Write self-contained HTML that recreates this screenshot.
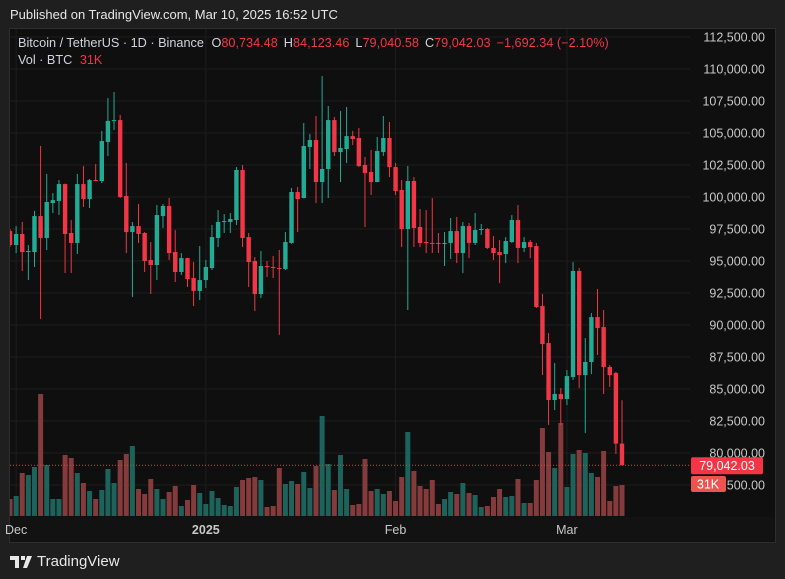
<!DOCTYPE html>
<html><head><meta charset="utf-8">
<style>
html,body{margin:0;padding:0;background:#1f1f1f;}
body{width:785px;height:579px;position:relative;overflow:hidden;font-family:"Liberation Sans",sans-serif;}
#hdr{position:absolute;left:10px;top:7px;font-size:13px;color:#e6e6e6;}
#frame{position:absolute;left:9px;top:28px;width:767px;height:515px;background:#0f0f0f;border:1px solid #2e2e2e;box-sizing:border-box;overflow:hidden;}
#foot{position:absolute;left:10px;top:553px;font-size:15px;color:#e8e8e8;display:flex;align-items:center;gap:5px;}
</style></head><body>
<div id="hdr">Published on TradingView.com, Mar 10, 2025 16:52 UTC</div>
<div id="frame"></div>
<svg id="chart" width="785" height="579" style="position:absolute;left:0;top:0;" font-family="Liberation Sans, sans-serif"></svg>
<div id="foot"><svg width="22" height="14" viewBox="0 0 22 14"><path d="M0 1h9v12H5V5H0z M11 1h4v4h-4z M17 1h5l-5 12h-4z" fill="#e8e8e8"/></svg><span>TradingView</span></div>
<script>
const opens=[97.34,96.25,97.11,95.78,95.70,98.51,96.80,99.53,99.69,101.01,97.19,96.41,101.01,99.84,101.33,101.25,104.30,105.96,106.01,100.08,97.26,97.73,97.19,95.08,94.69,98.51,99.30,95.70,94.14,95.23,93.67,92.66,93.51,94.45,96.80,98.08,98.05,98.20,102.11,96.87,95.00,92.42,94.61,94.53,94.45,94.37,96.41,100.39,99.92,103.91,104.45,101.17,102.19,106.01,103.51,103.75,104.76,104.61,102.50,101.95,101.17,103.51,104.61,102.34,100.55,97.50,101.25,97.66,96.48,96.41,96.41,96.33,96.41,97.34,95.62,97.73,96.41,97.46,97.50,96.02,95.70,95.55,96.48,98.20,96.02,96.48,96.17,91.48,88.59,84.14,84.61,84.22,85.94,94.22,86.09,87.11,90.62,89.84,86.72,86.25,80.73448];
const highs=[97.50,97.73,98.05,96.25,98.91,103.98,101.80,100.31,101.33,101.05,98.20,101.80,102.42,101.40,102.58,105.16,107.73,108.20,106.41,102.66,98.05,99.45,97.26,96.48,99.37,99.45,99.92,97.42,95.62,95.25,94.92,96.17,95.08,97.81,98.98,98.67,98.75,102.34,102.50,97.19,95.31,95.78,95.00,95.39,95.86,97.26,100.70,100.78,105.78,104.92,106.33,109.45,107.11,106.25,106.72,107.03,105.16,105.39,103.12,103.67,104.69,106.33,105.86,102.66,101.33,102.42,101.56,99.06,98.98,99.92,97.19,97.26,98.36,98.44,98.05,97.97,98.75,97.89,97.58,96.95,96.64,96.87,98.59,99.37,96.87,96.64,96.41,92.42,89.37,87.03,85.08,86.48,94.92,94.45,88.98,90.94,92.81,91.17,86.87,86.33,84.12346];
const lows=[96.09,95.62,94.22,93.51,94.53,90.47,95.86,98.75,98.59,94.06,94.06,95.55,99.22,99.14,101.25,101.09,103.20,105.23,99.92,95.62,92.19,96.41,94.14,92.42,93.51,97.58,95.08,93.36,93.91,92.97,91.48,91.95,92.89,94.30,96.09,97.19,97.19,97.81,96.09,92.97,91.09,92.11,93.75,93.67,89.22,94.30,96.35,97.26,99.90,102.19,99.53,99.53,99.92,103.20,101.17,102.66,104.06,102.34,97.66,100.16,101.15,103.20,101.56,100.16,96.09,91.17,96.09,96.09,95.62,95.62,95.62,94.61,95.16,94.84,94.06,95.23,96.25,97.03,95.94,95.08,93.28,94.84,96.41,94.84,95.70,95.23,91.33,86.09,82.19,83.36,82.19,83.75,85.70,85.08,81.56,86.17,87.66,84.61,85.16,79.92,79.04058];
const closes=[96.25,97.11,95.70,95.78,98.51,96.80,99.61,99.76,101.01,97.11,96.41,101.01,99.84,101.33,101.30,104.37,105.94,106.01,100.00,97.26,97.73,97.11,95.00,94.69,98.59,99.30,95.62,94.14,95.23,93.59,92.66,93.51,94.53,96.87,98.05,98.12,98.28,102.11,96.80,94.92,92.42,94.61,94.53,94.50,94.41,96.48,100.39,99.84,103.98,104.45,101.17,102.19,106.01,103.51,103.83,104.76,104.53,102.42,101.87,101.17,103.59,104.61,102.34,100.47,97.50,101.25,97.58,96.41,96.44,96.38,96.37,96.41,97.34,95.62,97.73,96.41,97.42,97.50,96.02,95.62,95.47,96.56,98.20,96.02,96.48,96.09,91.41,88.51,84.14,84.61,84.22,86.01,94.22,86.09,87.11,90.62,89.76,86.72,86.09,80.73448,79.04203];
const volumes=[17,20,43,41,49,122,51,17,17,61,58,43,33,25,17,26,47,33,56,62,70,27,22,37,27,17,24,30,10,16,31,23,12,25,18,11,10,29,36,38,39,36,9,10,48,32,35,32,44,28,50,100,52,26,61,27,11,12,57,25,27,22,25,15,39,84,45,30,27,36,12,17,24,22,33,23,21,9,10,19,27,19,20,37,13,13,36,88,64,48,93,29,62,66,63,43,39,65,15,30,31];
const priceTicks=[112500,110000,107500,105000,102500,100000,97500,95000,92500,90000,87500,85000,82500,80000,77500];
const timeLabels=["Dec","2025","Feb","Mar"];
const timeDays=[1,32,63,91];

const svg=document.getElementById('chart');
const NS='http://www.w3.org/2000/svg';
function yP(p){return 37+(112500-p)/2500*32;}
function xD(d){return 10+d*6.12;}
function yV(v){return 516-v*1.0;}
function fmt(p){return (Math.round(p*100)/100).toLocaleString('en-US',{minimumFractionDigits:2,maximumFractionDigits:2});}
function mk(t,a){const e=document.createElementNS(NS,t);for(const k in a)e.setAttribute(k,a[k]);svg.appendChild(e);return e;}
const defs=mk('defs',{});
const clip=document.createElementNS(NS,'clipPath');clip.setAttribute('id','pane');defs.appendChild(clip);
const cr=document.createElementNS(NS,'rect');cr.setAttribute('x',10);cr.setAttribute('y',29);cr.setAttribute('width',680);cr.setAttribute('height',487);clip.appendChild(cr);

const ta=mk('rect',{x:10,y:517,width:765,height:25,fill:'#121212'});



priceTicks.forEach(p=>{
  const g=mk('line',{x1:10,x2:690,y1:yP(p),y2:yP(p),stroke:'#1e1e1e','stroke-width':1});
  
  
});
timeDays.forEach(d=>{
  const g=mk('line',{x1:xD(d),x2:xD(d),y1:29,y2:516,stroke:'#1e1e1e','stroke-width':1});
  
  
});

const G=mk('g',{'clip-path':'url(#pane)'});
volumes.forEach((v,i)=>{
  const up=closes[i]>=opens[i];
  const r=document.createElementNS(NS,'rect');
  r.setAttribute('x',xD(i)-2.5);r.setAttribute('y',yV(v));r.setAttribute('width',5);r.setAttribute('height',516-yV(v));
  r.setAttribute('fill',up?'#1d635b':'#853a3c');
  
  
  G.appendChild(r);
});
opens.forEach((o,i)=>{
  const c=closes[i],up=c>=o,col=up?'#22ab94':'#f23645',x=xD(i);
  const w=document.createElementNS(NS,'line');
  w.setAttribute('x1',x);w.setAttribute('x2',x);
  w.setAttribute('y1',yP(highs[i]*1000));w.setAttribute('y2',yP(lows[i]*1000));
  w.setAttribute('stroke',col);w.setAttribute('stroke-width',1);
  
  
  G.appendChild(w);
  const yt=yP(Math.max(o,c)*1000),yb=yP(Math.min(o,c)*1000);
  const b=document.createElementNS(NS,'rect');
  b.setAttribute('x',x-2.2);b.setAttribute('y',yt);b.setAttribute('width',4.4);b.setAttribute('height',Math.max(1,yb-yt));
  b.setAttribute('fill',col);
  
  
  G.appendChild(b);
});
const lp=closes[closes.length-1]*1000;
const pl=mk('line',{x1:10,x2:690,y1:yP(lp),y2:yP(lp),stroke:'#f23645','stroke-width':1,'stroke-dasharray':'1 2'});



priceTicks.forEach(p=>{
  const t=mk('text',{x:765,y:yP(p)+4.5,'text-anchor':'end','font-size':12.5,fill:'#c8c8c8'});
  t.textContent=fmt(p);
  
  
});
const bx=mk('rect',{x:691,y:yP(lp)-8,width:72,height:17,rx:2,fill:'#f23645'});


const bt=mk('text',{x:727,y:yP(lp)+4.5,'text-anchor':'middle','font-size':12.5,fill:'#fff'});
bt.textContent=fmt(lp);


const vb=mk('rect',{x:691,y:476,width:35,height:16,rx:2,fill:'#ef5350'});


const vt=mk('text',{x:708,y:488.5,'text-anchor':'middle','font-size':12.5,fill:'#fff'});
vt.textContent='31K';



timeLabels.forEach((l,i)=>{
  const t=mk('text',{x:xD(timeDays[i]),y:534,'text-anchor':'middle','font-size':12.5,fill:'#c8c8c8','font-weight':l==='2025'?'bold':'normal'});
  t.textContent=l;
  
  
});

const lg=mk('text',{x:18,y:47,'font-size':12.7,fill:'#d1d4dc'});


lg.innerHTML='Bitcoin / TetherUS · 1D · Binance <tspan dx="4">O</tspan><tspan fill="#f23645">80,734.48</tspan><tspan dx="6">H</tspan><tspan fill="#f23645">84,123.46</tspan><tspan dx="6">L</tspan><tspan fill="#f23645">79,040.58</tspan><tspan dx="6">C</tspan><tspan fill="#f23645">79,042.03</tspan><tspan dx="6" fill="#f23645">−1,692.34 (−2.10%)</tspan>';
const lv=mk('text',{x:18,y:64,'font-size':12.7,fill:'#d1d4dc'});


lv.innerHTML='Vol · BTC <tspan dx="4" fill="#f23645">31K</tspan>';
</script>
</body></html>
